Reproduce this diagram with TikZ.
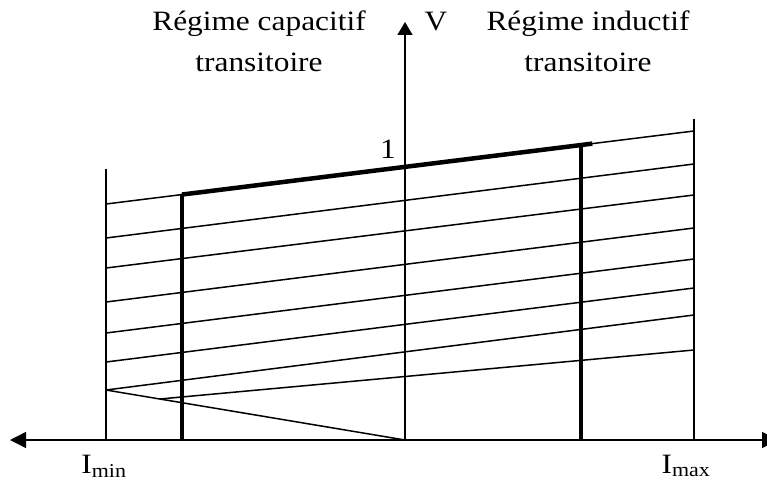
\documentclass[tikz,border=0pt]{standalone}
\usepackage{fontspec}
\setmainfont{Liberation Serif}[FakeStretch=1.12]
\usetikzlibrary{arrows.meta,calc}
\begin{document}
\begin{tikzpicture}[x=1pt,y=-1pt,
  thinln/.style={line width=1.5pt},
  thickln/.style={line width=4.5pt},
  axisln/.style={line width=1.5pt},
  lbl/.style={font=\fontsize{28}{41}\selectfont, inner sep=0pt, align=center}]
\useasboundingbox (0,0) rectangle (767,481);
% axes
\coordinate (O) at (405,440);
\coordinate (xl) at (10,440);
\coordinate (xr) at (778,440);
\coordinate (yt) at (405,22);
\draw[axisln, {Triangle[length=16pt,width=16pt]}-{Triangle[length=16pt,width=16pt]}] (xl) -- (xr);
\draw[axisln, -{Triangle[length=13pt,width=15pt]}] (O) -- (yt);
% outer verticals
\coordinate (Lt) at (106,169); \coordinate (Lb) at (106,440);
\coordinate (Rt) at (694,119); \coordinate (Rb) at (694,440);
\draw[thinln] (Lt) -- (Lb);
\draw[thinln] (Rt) -- (Rb);
% family of lines
\foreach \i/\yl/\yr in {1/204/131,2/238/164,3/268/195,4/302/228,5/333/259,6/362/288,7/390/315}{
  \coordinate (a\i) at (106,\yl);
  \coordinate (b\i) at (694,\yr);
  \draw[thinln] (a\i) -- (b\i);
}
\draw[thinln] (a7) -- (O);
\coordinate (a8) at ($(a7)!0.18!(O)$);
\coordinate (b8) at (694,350);
\draw[thinln] (a8) -- (b8);
% thick characteristic
\coordinate (T1) at ($(a1)!0.129!(b1)$);
\coordinate (T2) at ($(a1)!0.827!(b1)$);
\coordinate (T3) at ($(a1)!0.808!(b1)$);
\draw[thickln] (T1) -- (T2);
\draw[thickln] (T1) -- (T1 |- O);
\draw[thickln] (T3) -- (T3 |- O);
% labels
\node[lbl, anchor=base] (cap) at (259,72) {Régime capacitif\\transitoire};
\node[lbl, anchor=base] (ind) at (588,72) {Régime inductif\\transitoire};
\node[lbl, anchor=base] (V) at (436,31) {V};
\node[lbl, anchor=base] (one) at (388,159) {1};
\node[lbl, anchor=base] (imin) at (104,473) {I\textsubscript{min}};
\node[lbl, anchor=base] (imax) at (686,473) {I\textsubscript{max}};
\end{tikzpicture}
\end{document}
